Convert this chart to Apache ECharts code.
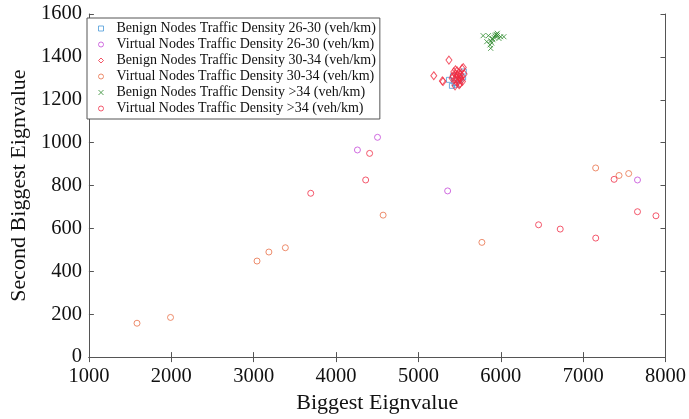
<!DOCTYPE html>
<html><head><meta charset="utf-8">
<script src="https://cdn.jsdelivr.net/npm/echarts@6/dist/echarts.min.js"></script>
<style>html,body{margin:0;padding:0;background:#fff}#c{width:689px;height:419px}</style>
</head><body><div id="c"></div>
<script>
const seriesNames = [
  "Benign Nodes Traffic Density 26-30 (veh/km)",
  "Virtual Nodes Traffic Density 26-30 (veh/km)",
  "Benign Nodes Traffic Density 30-34 (veh/km)",
  "Virtual Nodes Traffic Density 30-34 (veh/km)",
  "Benign Nodes Traffic Density >34 (veh/km)",
  "Virtual Nodes Traffic Density >34 (veh/km)"
];
const xTicks = [1000,2000,3000,4000,5000,6000,7000,8000];
const yTicks = [0,200,400,600,800,1000,1200,1400,1600];

const benign2630X = [5371,5407,5551,5543,5439,5499,5420,5460];
const benign2630Y = [1293,1265,1332,1304,1278,1293,1310,1270];

const virtual2630X = [4504,4260,5355,7660];
const virtual2630Y = [1025,966,775,826];

const benign3034X = [5371,5187,5291,5300,5430,5450,5470,5490,5510,5530,5545,5420,5460,5480,5500,5520,5440,5470,5495,5515,5535,5455,5485,5505,5525,5445,5555,5410];
const benign3034Y = [1385,1312,1288,1285,1330,1340,1335,1325,1320,1345,1350,1310,1300,1315,1305,1290,1295,1280,1270,1300,1285,1320,1290,1275,1310,1265,1320,1300];

const virtual3034X = [1584,1991,3041,3185,3385,4572,5771,7152,7436,7553];
const virtual3034Y = [158,185,448,490,510,662,535,882,847,856];

const benign34X = [5786,5850,5938,5958,5998,6038,5830,5878,5898,5918,5870,5878,5930,5978,5950,5905,5890,5960];
const benign34Y = [1499,1499,1502,1510,1494,1494,1471,1475,1486,1491,1456,1440,1497,1486,1505,1480,1465,1500];

const virtual34X = [4408,4360,3693,6459,6722,7153,7376,7660,7884];
const virtual34Y = [950,826,764,617,597,555,829,678,659];

const colors = ['#4a9ad8','#c448d8','#f02a40','#e87048','#2e8b2e','#f03048'];
const symbols = ['rect','circle','diamond','circle','path://M0,0L10,10M10,0L0,10','circle'];
const sizes = [[5,5],6,[6,8],6,[5,5],6];

const xs = [benign2630X,virtual2630X,benign3034X,virtual3034X,benign34X,virtual34X];
const ys = [benign2630Y,virtual2630Y,benign3034Y,virtual3034Y,benign34Y,virtual34Y];

const serif = "'Liberation Serif','DejaVu Serif',serif";
const axisLine = {lineStyle:{color:'#555',width:1}};
const plain = v => String(v);

const series = seriesNames.map((n,i)=>({
  name:n, type:'scatter', xAxisIndex:0, yAxisIndex:0,
  symbol:symbols[i], symbolSize:sizes[i],
  data: xs[i].map((x,k)=>[x, ys[i][k]]),
  itemStyle:{color:'rgba(0,0,0,0)', borderColor:colors[i], borderWidth:1},
  emphasis:{disabled:true}
}));

const chart = echarts.init(document.getElementById('c'));
chart.setOption({
  animation:false,
  grid:{left:83,right:22,top:14,bottom:61},
  legend:{
    orient:'vertical', left:87, top:18,
    data: seriesNames.map((n,i)=>({name:n, icon:symbols[i],
      itemStyle:{color:'rgba(0,0,0,0)',borderColor:colors[i],borderWidth:1}})),
    itemWidth:5, itemHeight:5, itemGap:1,
    padding:[3,4,3,11],
    borderColor:'#555', borderWidth:1, backgroundColor:'#fff',
    textStyle:{fontFamily:serif, fontSize:14, lineHeight:15, color:'#111', padding:[0,0,0,8]}
  },
  xAxis:[
    {type:'value', min:1000, max:8000, interval:1000, position:'bottom',
     axisLine:axisLine, axisTick:{inside:true,length:5,lineStyle:{color:'#555'}}, splitLine:{show:false},
     axisLabel:{fontFamily:serif, fontSize:20.5, color:'#111', margin:9, formatter:plain},
     name:'Biggest Eignvalue', nameLocation:'middle', nameGap:31,
     nameTextStyle:{fontFamily:serif, fontSize:22, color:'#111'}},
    {type:'value', min:1000, max:8000, interval:1000, position:'top',
     axisLine:axisLine, axisTick:{inside:true,length:5,lineStyle:{color:'#555'}},
     axisLabel:{show:false}, splitLine:{show:false}}
  ],
  yAxis:[
    {type:'value', min:0, max:1600, interval:200, position:'left',
     axisLine:{show:true,lineStyle:{color:'#555',width:1}}, axisTick:{show:true,inside:true,length:5,lineStyle:{color:'#555'}},
     splitLine:{show:false},
     axisLabel:{fontFamily:serif, fontSize:20.5, color:'#111', margin:7, formatter:plain},
     name:'Second Biggest Eignvalue', nameLocation:'middle', nameGap:53,
     nameTextStyle:{fontFamily:serif, fontSize:22, color:'#111'}},
    {type:'value', min:0, max:1600, interval:200, position:'right',
     axisLine:{show:true,lineStyle:{color:'#555',width:1}}, axisTick:{show:true,inside:true,length:5,lineStyle:{color:'#555'}},
     axisLabel:{show:false}, splitLine:{show:false}}
  ],
  series: series
});
</script></body></html>
